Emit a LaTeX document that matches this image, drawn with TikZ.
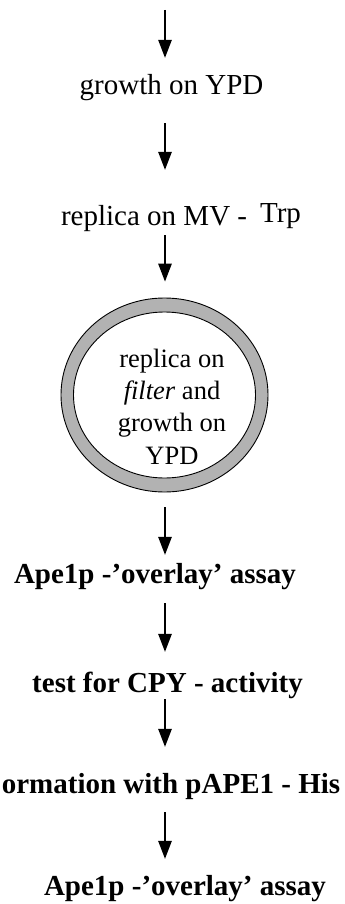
\documentclass[tikz,border=0pt]{standalone}
\usepackage{fontspec}
\setmainfont{Liberation Serif}
\usetikzlibrary{arrows.meta,shapes.geometric}
\begin{document}
\begin{tikzpicture}[x=1pt,y=-1pt,
  arr/.style={line width=1.3pt,-{Triangle[width=13.5pt,length=18pt]}},
  lbl/.style={inner sep=0pt,anchor=base,text height=20pt,text depth=7pt,font=\fontsize{29}{32}\selectfont},
  blbl/.style={lbl,font=\fontsize{29}{32}\selectfont\bfseries},
  ring/.style={ellipse,draw=black,line width=0.9pt,inner sep=0pt}]
\useasboundingbox (0,0) rectangle (345,904);
\coordinate (spine) at (165,0);
\coordinate (start) at (165,10);
\node[lbl] (growth) at (171.5,95) {growth on YPD};
\node[lbl] (rep) at (181,225) {replica on MV -\hspace{13pt}\raisebox{3pt}{Trp}};
\node[ring,fill=gray!60,minimum width=207pt,minimum height=194pt] (circ) at (164.5,395) {};
\node[ring,fill=white,minimum width=182pt,minimum height=166pt] (inner) at (circ.center) {};
\node[inner sep=0pt,anchor=base,align=center,font=\fontsize{26.5}{32.3}\selectfont] (ctext) at (172,464) {replica on\\\textit{filter} and\\growth on\\YPD};
\node[blbl] (ape1) at (155,583) {Ape1p -'overlay' assay};
\node[blbl] (test) at (167.5,692) {test for CPY - activity};
\node[blbl] (trans) at (171,793) {ormation with pAPE1 - His};
\node[blbl] (ape2) at (185,895) {Ape1p -'overlay' assay};
\draw[arr,shorten >=17pt] (start) -- (growth.north -| spine);
\draw[arr,shorten <=21pt,shorten >=35pt] (growth.south -| spine) -- (rep.north -| spine);
\draw[arr,shorten <=3pt,shorten >=16pt] (rep.south -| spine) -- (circ.north -| spine);
\draw[arr,shorten <=15pt,shorten >=8pt] (circ.south -| spine) -- (ape1.north -| spine);
\draw[arr,shorten <=13pt,shorten >=20pt] (ape1.south -| spine) -- (test.north -| spine);
\draw[arr,shorten >=26pt] (test.south -| spine) -- (trans.north -| spine);
\draw[arr,shorten <=12pt,shorten >=16pt] (trans.south -| spine) -- (ape2.north -| spine);
\end{tikzpicture}
\end{document}
